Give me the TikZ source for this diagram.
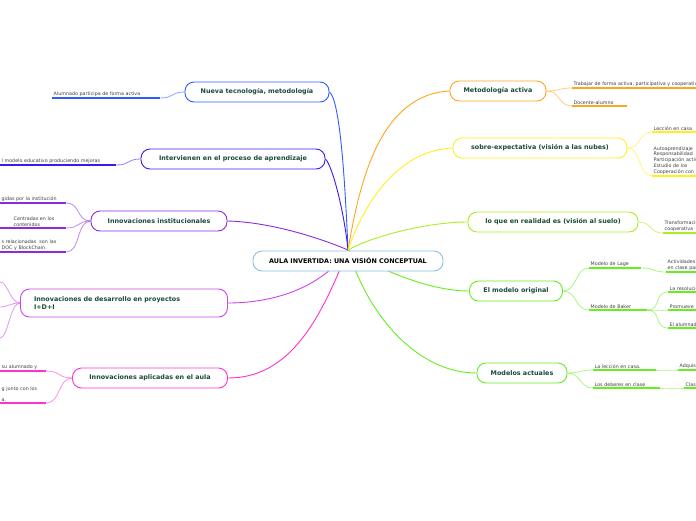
\documentclass[tikz,border=0pt]{standalone}
\usepackage{fontspec}
\setmainfont{DejaVu Sans}
\usetikzlibrary{positioning}
\definecolor{txt}{HTML}{1A4A3A}
\definecolor{cblue}{HTML}{2F5BFF}
\definecolor{cindigo}{HTML}{3A1AF0}
\definecolor{cpurple}{HTML}{8A2BE2}
\definecolor{cviolet}{HTML}{CC44EE}
\definecolor{cmag}{HTML}{FF33CC}
\definecolor{corange}{HTML}{FFA620}
\definecolor{cyellow}{HTML}{FFEE22}
\definecolor{clime}{HTML}{AAEE22}
\definecolor{cgreen}{HTML}{66EE22}
\definecolor{croot}{HTML}{88BEE8}
\tikzset{
  topic/.style={draw=#1, line width=0.9pt, rounded corners=9pt, fill=white,
    minimum height=20pt, inner xsep=6pt, text=txt, font=\bfseries\fontsize{6.4}{7.6}\selectfont},
  leaf/.style={inner sep=1.5pt, anchor=south west, align=left, text=black!75,
    font=\fontsize{4.8}{5.8}\selectfont},
  rline/.style={draw=#1, line width=0.8pt, opacity=0.55},
  uline/.style={draw=#1, line width=1.3pt}
}
\newcommand\rlink[3]{\draw[rline=#1] (#2) .. controls +(14,0) and +(-14,0) .. (#3);}
\newcommand\llink[3]{\draw[rline=#1] (#2) .. controls +(-14,0) and +(14,0) .. (#3);}
\newcommand\under[2]{\draw[uline=#1] (#2.south west) -- (#2.south east);}
\begin{document}
\begin{tikzpicture}[x=1pt,y=-1pt]
\useasboundingbox[fill=white] (0,0) rectangle (696,520);
\coordinate (hub) at (348,250);
% left topics
\node[topic=cblue, minimum width=144pt] (tec) at (257,92) {Nueva tecnología, metodología};
\node[topic=cindigo, minimum width=184pt] (int) at (233,159) {Intervienen en el proceso de aprendizaje};
\node[topic=cpurple, minimum width=136pt] (ins) at (159,221) {Innovaciones institucionales};
\node[topic=cviolet, minimum width=207pt, minimum height=28pt, align=left, text width=180pt] (idi) at (124,303) {Innovaciones de desarrollo en proyectos\\I+D+I};
\node[topic=cmag, minimum width=155pt] (aul) at (150,378) {Innovaciones aplicadas en el aula};
% right topics
\node[topic=corange, minimum width=96pt] (met) at (498,91) {Metodología activa};
\node[topic=cyellow, minimum width=174pt] (sob) at (540,148) {sobre-expectativa (visión a las nubes)};
\node[topic=clime, minimum width=170pt] (rea) at (553,222) {lo que en realidad es (visión al suelo)};
\node[topic=cgreen, minimum width=93pt] (ori) at (516,291) {El modelo original};
\node[topic=cgreen, minimum width=90pt] (act) at (522,373) {Modelos actuales};
% branches from the centre
\draw[cblue, line width=0.9pt] (hub) .. controls (345,180) and (340,100) .. (tec.east);
\draw[cindigo, line width=0.9pt] (hub) .. controls (344,210) and (332,165) .. (int.east);
\draw[cpurple, line width=0.9pt] (hub) .. controls (320,238) and (270,222) .. (ins.east);
\draw[cviolet, line width=0.9pt] (hub) .. controls (320,290) and (270,303) .. (idi.east);
\draw[cmag, line width=0.9pt] (hub) .. controls (320,320) and (290,378) .. (aul.east);
\draw[corange, line width=0.9pt] (hub) .. controls (360,180) and (380,95) .. (met.west);
\draw[cyellow, line width=0.9pt] (hub) .. controls (365,200) and (400,150) .. (sob.west);
\draw[clime, line width=0.9pt] (hub) .. controls (375,235) and (430,222) .. (rea.west);
\draw[cgreen, line width=0.9pt] (hub) .. controls (380,270) and (430,291) .. (ori.west);
\draw[cgreen, line width=0.9pt] (hub) .. controls (370,320) and (420,373) .. (act.west);
% central topic
\node[topic=croot, minimum width=190pt, text=black] (root) at (348,261) {AULA INVERTIDA: UNA VISIÓN CONCEPTUAL};
% left leaves
\node[leaf, text width=105pt] (tec1) at (52,98) {Alumnado participa de forma activa};
\node[leaf, text width=113pt] (int1) at (0,165) {l modelo educativo produciendo mejoras};
\node[leaf, text width=63pt] (ins1) at (0,203) {gidas por la institución};
\node[leaf, text width=63pt] (ins2) at (0,228) {\hspace*{12pt}Centradas en los\\\hspace*{12pt}contenidos};
\node[leaf, text width=63pt] (ins3) at (0,252) {s relacionadas\ \ son las\\DOC y BlockChain.};
\node[leaf, text width=43pt] (aul1) at (0,371) {su alumnado y};
\node[leaf, text width=43pt] (aul2) at (0,403) {g junto con los\\[5pt]a.};
\coordinate (idi1) at (0,282);
\coordinate (idi2) at (0,307);
\coordinate (idi3) at (0,338);
\foreach \n/\c in {tec1/cblue,int1/cindigo,ins1/cpurple,ins2/cpurple,ins3/cpurple,aul1/cmag,aul2/cmag}{\under{\c}{\n}}
\llink{cblue}{tec.west}{tec1.south east}
\llink{cindigo}{int.west}{int1.south east}
\foreach \n in {ins1,ins2,ins3}{\llink{cpurple}{ins.west}{\n.south east}}
\foreach \n in {idi1,idi2,idi3}{\draw[rline=cviolet] (idi.west) .. controls +(-10,0) and +(8,0) .. (\n);}
\foreach \n in {aul1,aul2}{\llink{cmag}{aul.west}{\n.south east}}
% right leaves
\node[leaf, text width=160pt] (met1) at (572,88) {Trabajar de forma activa, participativa y cooperativa};
\node[leaf, text width=52pt] (met2) at (572,106) {Docente-alumno};
\node[leaf, text width=60pt] (sob1) at (652,132) {Lección en casa};
\node[leaf, text width=60pt] (sob2) at (652,176) {Autoaprendizaje\\Responsabilidad\\Participación activa\\Estudio de los\\Cooperación con};
\node[leaf, text width=60pt] (rea1) at (663,233) {Transformación\\cooperativa};
\node[leaf, text width=49pt] (ori1) at (589,268) {Modelo de Lage};
\node[leaf, text width=55pt] (ori2) at (589,310) {Modelo de Baker};
\node[leaf, text width=60pt] (lag1) at (666,272) {Actividades\\en clase para};
\node[leaf, text width=60pt] (bak1) at (668,292) {La resolución};
\node[leaf, text width=60pt] (bak2) at (668,310) {Promueve};
\node[leaf, text width=60pt] (bak3) at (668,328) {El alumnado};
\node[leaf, text width=60pt] (act1) at (593,370) {La lección en casa.};
\node[leaf, text width=64pt] (act2) at (593,388) {Los deberes en clase};
\node[leaf, text width=40pt] (adq) at (678,370) {Adquisición};
\node[leaf, text width=40pt] (cla) at (684,388) {Clase};
\foreach \n/\c in {met1/corange,met2/corange,sob1/cyellow,sob2/cyellow,rea1/clime,ori1/cgreen,ori2/cgreen,lag1/cgreen,bak1/cgreen,bak2/cgreen,bak3/cgreen,act1/cgreen,act2/cgreen,adq/cgreen,cla/cgreen}{\under{\c}{\n}}
\foreach \n in {met1,met2}{\rlink{corange}{met.east}{\n.south west}}
\foreach \n in {sob1,sob2}{\rlink{cyellow}{sob.east}{\n.south west}}
\rlink{clime}{rea.east}{rea1.south west}
\foreach \n in {ori1,ori2}{\rlink{cgreen}{ori.east}{\n.south west}}
\rlink{cgreen}{ori1.south east}{lag1.south west}
\foreach \n in {bak1,bak2,bak3}{\rlink{cgreen}{ori2.south east}{\n.south west}}
\foreach \n in {act1,act2}{\rlink{cgreen}{act.east}{\n.south west}}
\rlink{cgreen}{act1.south east}{adq.south west}
\rlink{cgreen}{act2.south east}{cla.south west}
\end{tikzpicture}
\end{document}
